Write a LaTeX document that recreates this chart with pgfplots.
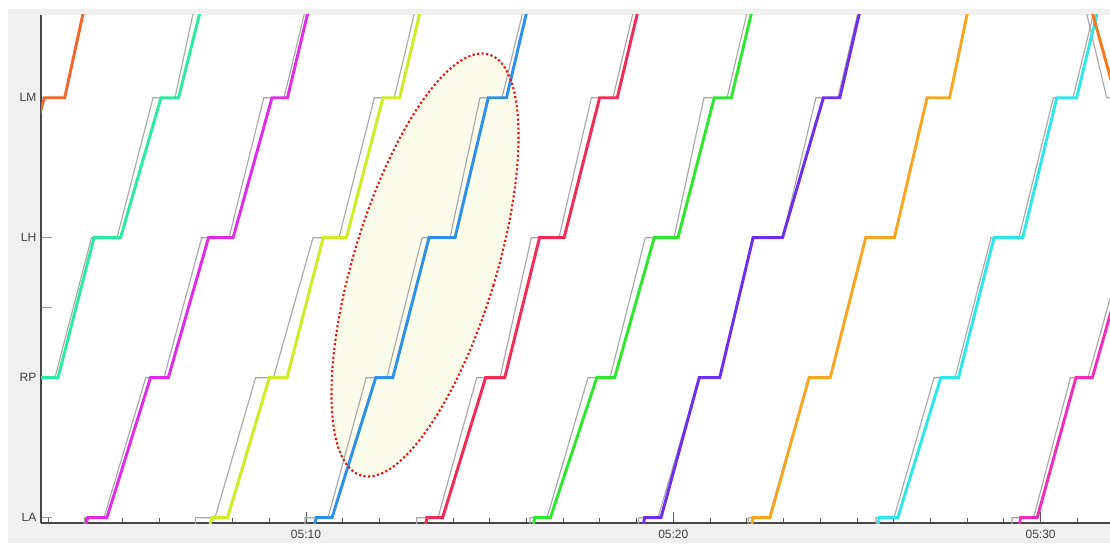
\documentclass[border=0pt]{standalone}
\usepackage{pgfplots}
\pgfplotsset{compat=1.18}
\usepackage{fontspec}
\setmainfont{Liberation Sans}
\definecolor{cA}{HTML}{F4662B}
\definecolor{cB}{HTML}{2BEBA0}
\definecolor{cC}{HTML}{E02CE8}
\definecolor{cD}{HTML}{CDEE22}
\definecolor{cE}{HTML}{2E90EA}
\definecolor{cF}{HTML}{F52A55}
\definecolor{cG}{HTML}{2EE82E}
\definecolor{cH}{HTML}{6E2EF0}
\definecolor{cI}{HTML}{F5A623}
\definecolor{cJ}{HTML}{2EE8E8}
\definecolor{cK}{HTML}{F02CB8}
\definecolor{cL}{HTML}{F47A20}
\definecolor{planc}{HTML}{A8A8A8}
\definecolor{bggray}{HTML}{F0F0F0}
\definecolor{ellfill}{HTML}{FCFCEB}
\definecolor{elldot}{HTML}{EE1111}
\definecolor{txt}{HTML}{404040}
\pgfplotsset{
  train/.style={line width=2.2pt, mark=none},
  plan/.style={line width=0.85pt, color=planc, mark=none},
}
\begin{document}
\begin{tikzpicture}
\useasboundingbox (-30.75pt,-15pt) rectangle (801.75pt,392.25pt);
\fill[white] (-30.75pt,-15pt) rectangle (801.75pt,392.25pt);
\fill[bggray] (-24.75pt,-15pt) rectangle (801.75pt,385.5pt);
\fill[white] (0pt,0pt) rectangle (801.75pt,381pt);
\begin{axis}[
  at={(0pt,0pt)}, anchor=south west,
  scale only axis, width=801.75pt, height=381pt,
  xmin=2.785, xmax=31.89, ymin=-0.0379, ymax=3.591,
  axis x line*=bottom, axis y line*=left,
  axis line style={-, draw=black!72, line width=0.8pt},
  tick align=inside,
  xtick={10,20,30}, xticklabels={05:10,05:20,05:30},
  minor xtick={3,4,...,31},
  ytick={0,1,1.5,2,3}, yticklabels={LA,RP,,LH,LM},
  major tick length=8pt, minor tick length=3.75pt,
  x tick style={draw=black!65, line width=0.6pt},
  y tick style={draw=black!40, line width=0.8pt},
  ticklabel style={font=\fontsize{9}{11}\selectfont, text=txt},
  xticklabel style={yshift=-1.5pt},
  clip=true,
]
% highlighted region
\fill[ellfill, rotate around={-16.9:(axis cs:13.24,1.805)}] (axis cs:13.24,1.805) ellipse [x radius=53.5pt, y radius=165pt];
% ---------- planned (grey) paths ----------
\addplot[plan] coordinates {(0.961,0) (2.159,1) (3.166,1) (4.160,2) (4.854,2) (5.835,3) (6.433,3) (7.250,4)};
\addplot[plan] coordinates {(3.967,-0.05) (3.967,0) (4.500,0) (5.638,1) (6.134,1) (7.160,2) (7.904,2) (8.851,3) (9.401,3) (10.327,4)};
\addplot[plan] coordinates {(6.994,-0.05) (6.994,0) (7.523,0) (8.628,1) (9.113,1) (10.191,2) (10.898,2) (11.862,3) (12.404,3) (13.311,4)};
\addplot[plan] coordinates {(9.973,-0.05) (9.973,0) (10.599,0) (11.639,1) (12.200,1) (13.158,2) (13.921,2) (14.737,3) (15.336,3) (16.262,4)};
\addplot[plan] coordinates {(13.014,-0.05) (13.014,0) (13.594,0) (14.648,1) (15.282,1) (16.134,2) (16.888,2) (17.770,3) (18.358,3) (19.257,4)};
\addplot[plan] coordinates {(16.099,-0.05) (16.099,0) (16.561,0) (17.678,1) (18.277,1) (19.238,2) (20.019,2) (20.836,3) (21.462,3) (22.361,4)};
\addplot[plan] coordinates {(19.053,-0.05) (19.053,0) (19.584,0) (20.706,1) (21.264,1) (22.173,2) (22.973,2) (23.883,3) (24.480,3) (25.380,4)};
\addplot[plan] coordinates {(22.042,-0.05) (22.042,0) (22.600,0) (23.695,1) (24.272,1) (25.239,2) (26.020,2) (26.910,3) (27.523,3) (28.323,4)};
\addplot[plan] coordinates {(25.519,-0.05) (25.519,0) (26.009,0) (27.098,1) (27.670,1) (28.650,2) (29.412,2) (30.349,3) (30.883,3) (31.809,4)};
\addplot[plan] coordinates {(29.222,-0.05) (29.222,0) (29.810,0) (30.812,1) (31.291,1) (32.353,2)};
\addplot[plan] coordinates {(30.891,4) (31.800,3) (32.434,3)};
% ---------- actual (coloured) paths ----------
\addplot[train, cA] coordinates {(1.832,2) (2.875,3) (3.430,3) (4.261,4)};
\addplot[train, cB] coordinates {(1.043,0) (2.214,1) (3.248,1) (4.228,2) (4.950,2) (6.052,3) (6.529,3) (7.487,4)};
\addplot[train, cC] coordinates {(4.002,-0.05) (4.059,0) (4.579,0) (5.766,1) (6.251,1) (7.346,2) (8.015,2) (9.074,3) (9.496,3) (10.408,4)};
\addplot[train, cD] coordinates {(7.386,-0.05) (7.441,0) (7.863,0) (9.001,1) (9.483,1) (10.468,2) (11.100,2) (12.096,3) (12.549,3) (13.458,4)};
\addplot[train, cE] coordinates {(10.226,-0.05) (10.283,0) (10.708,0) (11.898,1) (12.363,1) (13.349,2) (14.057,2) (14.963,3) (15.459,3) (16.357,4)};
\addplot[train, cF] coordinates {(13.256,-0.05) (13.294,0) (13.719,0) (14.890,1) (15.410,1) (16.357,2) (17.027,2) (17.994,3) (18.475,3) (19.382,4)};
\addplot[train, cG] coordinates {(16.191,-0.05) (16.227,0) (16.654,0) (17.917,1) (18.402,1) (19.480,2) (20.128,2) (21.114,3) (21.579,3) (22.486,4)};
\addplot[train, cH] coordinates {(19.181,-0.05) (19.219,0) (19.665,0) (20.706,1) (21.264,1) (22.173,2) (22.973,2) (24.087,3) (24.533,3) (25.418,4)};
\addplot[train, cI] coordinates {(22.135,-0.05) (22.170,0) (22.633,0) (23.695,1) (24.272,1) (25.239,2) (26.020,2) (26.910,3) (27.523,3) (28.323,4)};
\addplot[train, cJ] coordinates {(25.573,-0.05) (25.611,0) (26.112,0) (27.283,1) (27.765,1) (28.732,2) (29.513,2) (30.441,3) (30.980,3) (31.906,4)};
\addplot[train, cK] coordinates {(29.421,-0.05) (29.456,0) (29.908,0) (30.962,1) (31.408,1) (32.489,2)};
\addplot[train, cL] coordinates {(30.991,4) (32.054,3) (32.600,3)};
% highlight border
\draw[elldot, line width=1.6pt, dash pattern=on 1.6pt off 1.8pt, rotate around={-16.9:(axis cs:13.24,1.805)}] (axis cs:13.24,1.805) ellipse [x radius=53.5pt, y radius=165pt];
\end{axis}
\end{tikzpicture}
\end{document}
